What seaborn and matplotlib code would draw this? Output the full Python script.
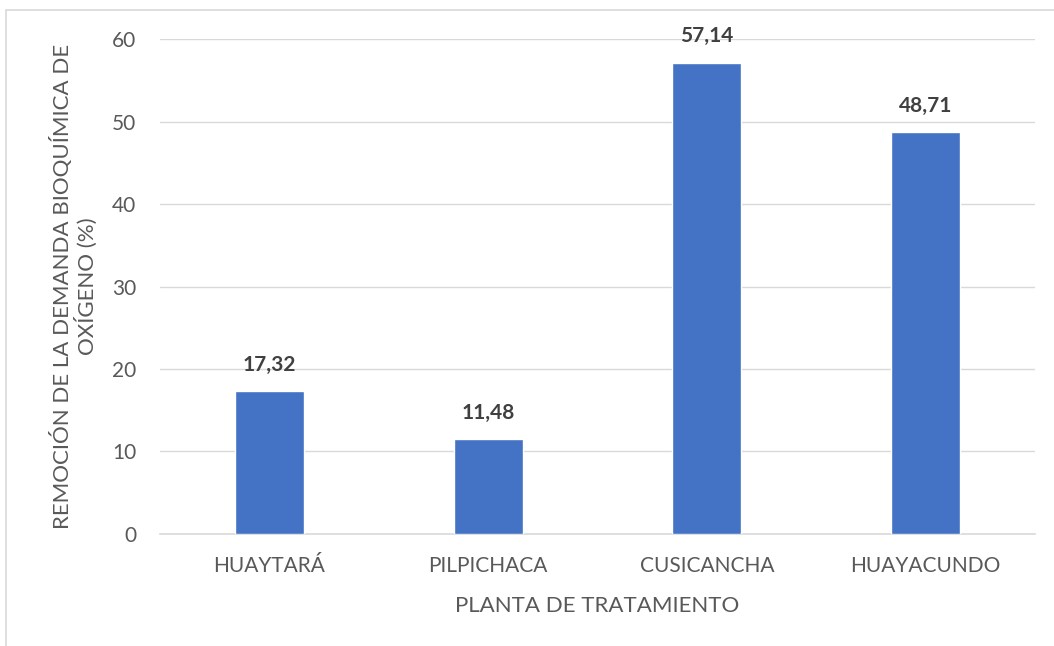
import matplotlib
matplotlib.use("Agg")
import matplotlib.pyplot as plt
from matplotlib.patches import Rectangle
import seaborn as sns
import pandas as pd

plantas = ["HUAYTARÁ", "PILPICHACA", "CUSICANCHA", "HUAYACUNDO"]
remocion = [17.32, 11.48, 57.14, 48.71]
y_ticks = [0, 10, 20, 30, 40, 50, 60]

sns.set_theme(style="white")
plt.rcParams["font.family"] = ["Lato", "DejaVu Sans"]

df = pd.DataFrame({"planta": plantas, "remocion": remocion})

fig = plt.figure(figsize=(10.54, 6.46), dpi=100)
ax = fig.add_axes([0.1518, 0.1734, 0.8302, 0.7662])

sns.barplot(data=df, x="planta", y="remocion", color="#4472C4",
            width=0.315, saturation=1, ax=ax, zorder=3)

ax.set_ylim(0, 60)
ax.set_xlim(-0.5, len(plantas) - 0.5)
ax.set_yticks(y_ticks)
ax.yaxis.grid(True, color="#d9d9d9", linewidth=1.0, zorder=0)
ax.xaxis.grid(False)
for s in ["top", "right", "left"]:
    ax.spines[s].set_visible(False)
ax.spines["bottom"].set_color("#d9d9d9")
ax.spines["bottom"].set_linewidth(1.2)
ax.tick_params(axis="both", length=0, labelsize=15, labelcolor="#595959")
ax.tick_params(axis="x", pad=16)
ax.tick_params(axis="y", pad=17)

for i, v in enumerate(remocion):
    ax.text(i, v + 2.0, f"{v:.2f}".replace(".", ","), ha="center", va="bottom",
            fontsize=15, fontweight="bold", color="#404040")

ax.set_xlabel("PLANTA DE TRATAMIENTO", fontsize=16, color="#595959", labelpad=14)
ax.set_ylabel("REMOCIÓN DE LA DEMANDA BIOQUÍMICA DE\nOXÍGENO (%)", fontsize=16,
              color="#595959", labelpad=10, linespacing=1.1)

fig.patches.append(Rectangle((6 / 1054, -0.1), 1.1, 0.9845 + 0.1,
                             transform=fig.transFigure, fill=False,
                             edgecolor="#d9d9d9", linewidth=1.2))

fig.savefig("out.png", dpi=100)
